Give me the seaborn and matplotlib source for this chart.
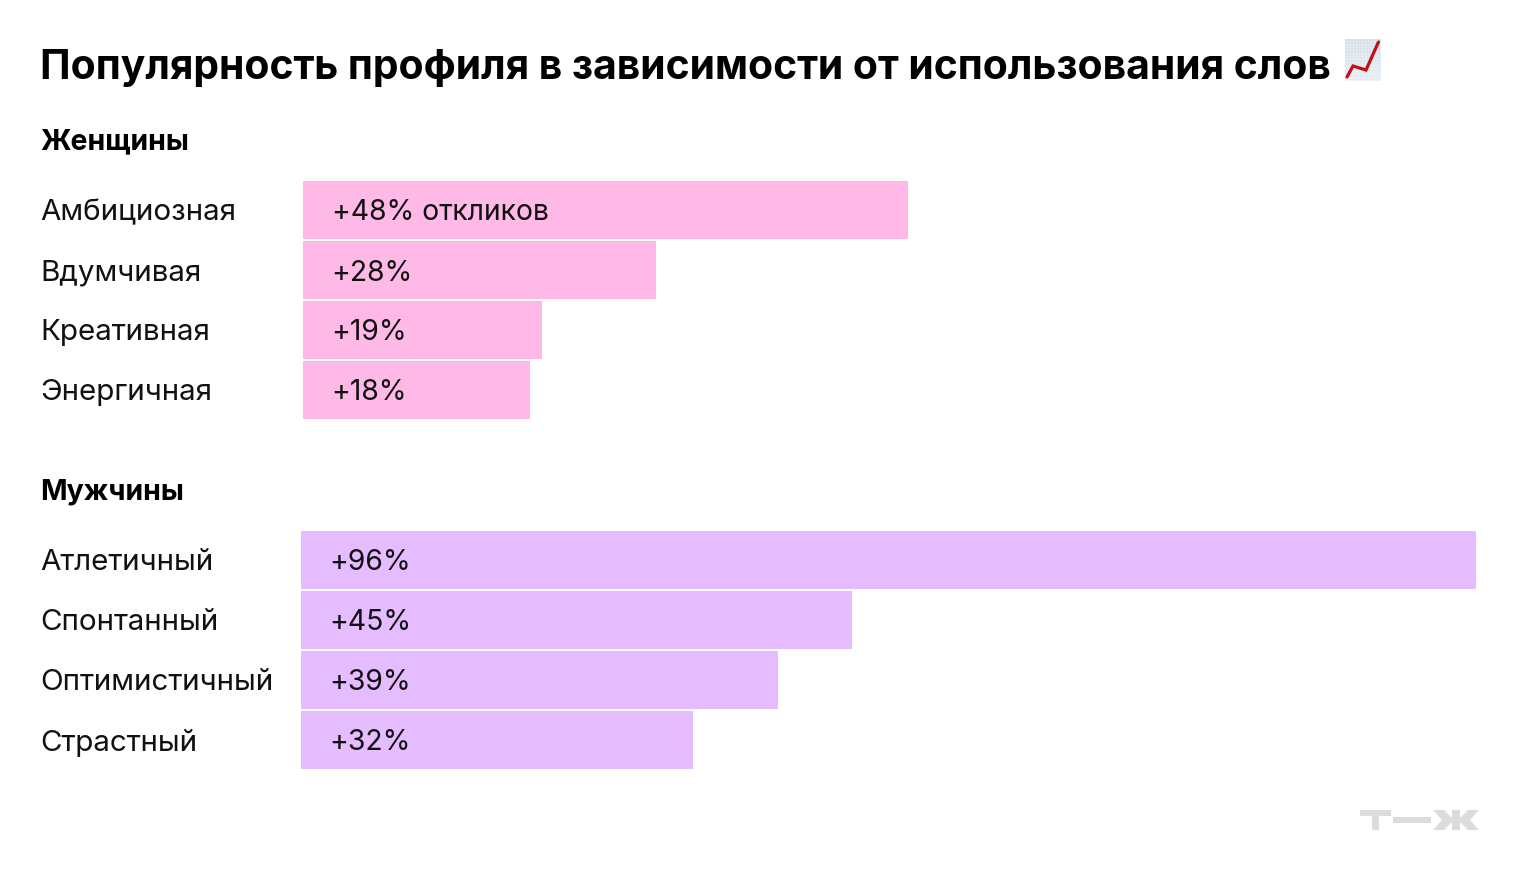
import matplotlib
matplotlib.use("Agg")
import matplotlib.pyplot as plt
from matplotlib.colors import LinearSegmentedColormap
from matplotlib.patches import Polygon, Rectangle
from matplotlib.lines import Line2D
import numpy as np
import pandas as pd
import seaborn as sns

W, H = 1520, 890
TITLE = "Популярность профиля в зависимости от использования слов"

women_words = ["Амбициозная", "Вдумчивая", "Креативная", "Энергичная"]
women_values = [48, 28, 19, 18]
women_labels = ["+48% откликов", "+28%", "+19%", "+18%"]

men_words = ["Атлетичный", "Спонтанный", "Оптимистичный", "Страстный"]
men_values = [96, 45, 39, 32]
men_labels = ["+96%", "+45%", "+39%", "+32%"]

PINK = "#ffb9e6"
LILAC = "#e5bcff"
INK = "#111111"

sns.set_theme(style="white")
plt.rcParams["font.family"] = ["Inter", "DejaVu Sans"]

fig = plt.figure(figsize=(W / 100, H / 100), dpi=100, facecolor="white")


def box(left, top, right, bottom):
    return [left / W, 1 - bottom / H, (right - left) / W, (bottom - top) / H]


def panel(left, top, right, words, values, labels, color, unit_px, heading, heading_y):
    ax = fig.add_axes(box(left, top, right, top + 240))
    frame = pd.DataFrame({"word": words, "value": values})
    sns.barplot(data=frame, x="value", y="word", color=color, saturation=1,
                width=0.967, linewidth=0, ax=ax, legend=False)
    ax.set_xlim(0, (right - left) / unit_px)
    ax.set_ylim(3.5, -0.5)
    ax.set_xlabel("")
    ax.set_ylabel("")
    ax.set_xticks([])
    ax.set_yticks(range(len(words)))
    ax.set_yticklabels([])
    ax.tick_params(left=False, bottom=False)
    sns.despine(ax=ax, left=True, bottom=True, top=True, right=True)
    ax.patch.set_alpha(0)
    for i, (word, label) in enumerate(zip(words, labels)):
        y_px = top + 30 + 60 * i
        fig.text(40 / W, 1 - y_px / H, word, fontsize=21.3, color=INK,
                 va="center_baseline", ha="left")
        fig.text((left + 28.5) / W, 1 - y_px / H, label, fontsize=20.4, color=INK,
                 va="center_baseline", ha="left")
    fig.text(40 / W, 1 - (heading_y - 1) / H, heading, fontsize=20.5, fontweight="bold",
             color="#000000", va="center_baseline", ha="left")


panel(303, 180, 1480, women_words, women_values, women_labels, PINK, 12.6,
      "Женщины", 140)
panel(301, 530, 1480, men_words, men_values, men_labels, LILAC, 12.24,
      "Мужчины", 490)

fig.text(40 / W, 1 - 64 / H, TITLE, fontsize=29.4, fontweight="bold",
         color="#000000", va="center_baseline", ha="left")

# Overlay in pixel coordinates for the small chart icon and the wordmark
overlay = fig.add_axes([0, 0, 1, 1], zorder=5)
overlay.axis("off")

# Chart-with-upwards-trend icon
paper = LinearSegmentedColormap.from_list("paper", ["#d3e0ea", "#e6edf2"])
overlay.imshow(np.linspace(0, 1, 40).reshape(-1, 1), cmap=paper,
               extent=(1345, 1381, 81, 39), aspect="auto", zorder=1)
overlay.set_xlim(0, W)
overlay.set_ylim(H, 0)
for gx in np.arange(1347, 1381, 3):
    overlay.add_line(Line2D([gx, gx], [39, 81], color="white", lw=0.5, alpha=0.35, zorder=2))
for gy in np.arange(41, 81, 3):
    overlay.add_line(Line2D([1345, 1381], [gy, gy], color="white", lw=0.5, alpha=0.35, zorder=2))
overlay.add_line(Line2D([1347, 1353, 1366, 1378.5], [77, 66, 70, 42],
                        color="#c40f14", lw=2.3, solid_joinstyle="miter", zorder=3))

# Wordmark drawn as flat shapes
LOGO = "#dcdcdc"
overlay.add_patch(Polygon([(1360, 810), (1391, 810), (1391, 816), (1379, 816), (1379, 830),
                           (1372, 830), (1372, 816), (1360, 816)], color=LOGO, lw=0))
overlay.add_patch(Rectangle((1393, 817), 38, 6, color=LOGO, lw=0))
overlay.add_patch(Rectangle((1452, 810), 8, 20, color=LOGO, lw=0))
overlay.add_patch(Polygon([(1433, 810), (1444, 810), (1454, 820), (1444, 830), (1433, 830),
                           (1442, 820)], color=LOGO, lw=0))
overlay.add_patch(Polygon([(1479, 810), (1468, 810), (1458, 820), (1468, 830), (1479, 830),
                           (1470, 820)], color=LOGO, lw=0))

fig.savefig("out.png", dpi=100, facecolor="white")
